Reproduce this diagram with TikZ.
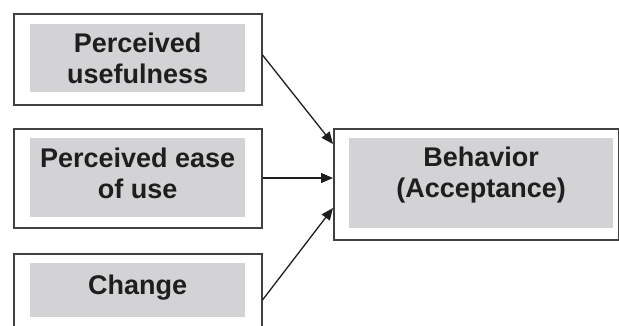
\documentclass[tikz,border=0pt]{standalone}
\usepackage{fontspec}
\setmainfont{Liberation Sans}
\usetikzlibrary{arrows.meta}
\definecolor{boxgray}{RGB}{211,211,213}
\definecolor{ink}{RGB}{30,30,30}
\begin{document}
\begin{tikzpicture}[x=1pt,y=-1pt,
  outerbox/.style={draw=ink!85,line width=1.5pt,fill=white,inner sep=0pt,minimum width=#1},
  graybox/.style={fill=boxgray,inner sep=0pt},
  lbl/.style={inner sep=0pt,align=center,text=ink,
    font=\fontsize{27}{31}\selectfont\bfseries},
  conn/.style={draw=ink,line width=1.3pt,-{Triangle[length=12pt,width=10pt]}}]
\useasboundingbox (0,0) rectangle (619,325);
\begin{scope}
\clip (0,0) rectangle (619,325);
% outer frames
\node[outerbox=248pt,minimum height=91pt,anchor=north west] (o1) at (13,13) {};
\node[outerbox=248pt,minimum height=99pt,anchor=north west] (o2) at (13,128) {};
\node[outerbox=248pt,minimum height=90pt,anchor=north west] (o3) at (13,253) {};
\node[outerbox=285pt,minimum height=111pt,anchor=north west] (o4) at (333,128) {};
% gray inner fields
\node[graybox,minimum width=215pt,minimum height=68pt,anchor=north west] (g1) at (30,24) {};
\node[graybox,minimum width=215pt,minimum height=79pt,anchor=north west] (g2) at (30,138) {};
\node[graybox,minimum width=215pt,minimum height=54pt,anchor=north west] (g3) at (30,263) {};
\node[graybox,minimum width=264pt,minimum height=90pt,anchor=north west] (g4) at (349,138) {};
% texts
\node[lbl] (l1) at ([yshift=0pt]g1.center) {Perceived\\usefulness};
\node[lbl] (l2) at ([yshift=4pt]g2.center) {Perceived ease\\of use};
\node[lbl] (l3) at ([yshift=3pt]g3.center) {Change};
\node[lbl] (l4) at ([yshift=8pt]g4.center) {Behavior\\(Acceptance)};
% connectors
\coordinate (t1) at ([yshift=-16pt]o4.north west);
\coordinate (t2) at ([yshift=-50pt]o4.north west);
\coordinate (t3) at ([yshift=-80pt]o4.north west);
\draw[conn] ([yshift=-42pt]o1.north east) -- (t1);
\draw[conn] ([yshift=-50pt]o2.north east) -- (t2);
\draw[conn] ([yshift=-47pt]o3.north east) -- (t3);
\end{scope}
\end{tikzpicture}
\end{document}
